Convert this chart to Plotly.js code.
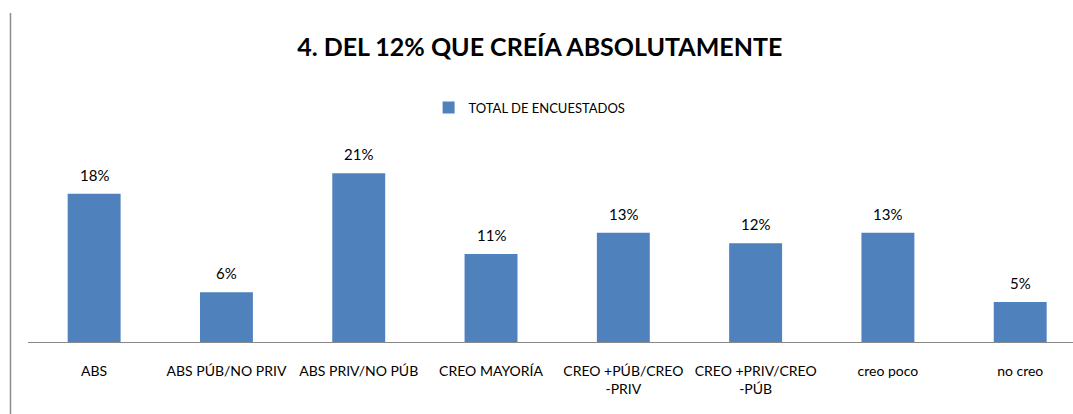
<!DOCTYPE html>
<html>
<head>
<meta charset="utf-8">
<script src="https://cdn.plot.ly/plotly-3.0.1.min.js"></script>
<style>
  html, body { margin: 0; padding: 0; background: #ffffff; }
  #chart { width: 1073px; height: 414px; }
</style>
</head>
<body>
<div id="chart"></div>
<script>
// Categories (x axis tick labels)
const categories = [
  "ABS",
  "ABS PÚB/NO PRIV",
  "ABS PRIV/NO PÚB",
  "CREO MAYORÍA",
  "CREO +PÚB/CREO<br>-PRIV",
  "CREO +PRIV/CREO<br>-PÚB",
  "creo poco",
  "no creo"
];
// Series: TOTAL DE ENCUESTADOS (percent)
const seriesName = "TOTAL DE ENCUESTADOS";
const totalValues = [18.2, 6.1, 20.7, 10.8, 13.4, 12.1, 13.4, 4.9];
// Data labels shown on the bars
const valueLabels = ["18%", "6%", "21%", "11%", "13%", "12%", "13%", "5%"];

const FONT = "Lato, 'Open Sans', sans-serif";
const BLUE = "#4F81BD";

const trace = {
  type: "bar",
  name: seriesName,
  x: categories,
  y: totalValues,
  width: 0.4,
  marker: { color: BLUE, line: { width: 0 } },
  hoverinfo: "skip",
  showlegend: true
};

const annotations = categories.map((c, i) => ({
  x: c,
  y: totalValues[i],
  xref: "x",
  yref: "y",
  text: valueLabels[i],
  showarrow: false,
  yanchor: "bottom",
  xanchor: "center",
  yshift: 8,
  font: { family: FONT, size: 15, color: "#000000" }
}));

const layout = {
  width: 1073,
  height: 414,
  margin: { l: 28, r: 0, t: 100, b: 72, autoexpand: false },
  paper_bgcolor: "#ffffff",
  plot_bgcolor: "#ffffff",
  font: { family: FONT, size: 14, color: "#000000" },
  title: {
    text: "<b>4. DEL 12% QUE CREÍA ABSOLUTAMENTE</b>",
    font: { family: FONT, size: 25, color: "#000000" },
    xref: "container",
    x: 0.503,
    xanchor: "center",
    yref: "container",
    y: 0.8865,
    yanchor: "middle"
  },
  showlegend: true,
  legend: {
    orientation: "h",
    xref: "paper",
    x: 0.480,
    xanchor: "center",
    yref: "paper",
    y: 0.969,
    yanchor: "middle",
    font: { family: FONT, size: 13, color: "#000000" },
    bgcolor: "rgba(0,0,0,0)"
  },
  bargap: 0.6,
  xaxis: {
    type: "category",
    range: [-0.5, 7.399],
    showline: true,
    linecolor: "#888888",
    linewidth: 1,
    ticks: "",
    tickangle: 0,
    showgrid: false,
    zeroline: false,
    automargin: false,
    tickfont: { family: FONT, size: 14, color: "#000000" },
    ticklabelstandoff: 16,
    fixedrange: true
  },
  yaxis: {
    range: [0, 29.69],
    visible: false,
    showgrid: false,
    zeroline: false,
    automargin: false,
    fixedrange: true
  },
  annotations: annotations,
  shapes: [
    {
      type: "line",
      xref: "paper", yref: "paper",
      x0: -0.01675, x1: -0.01675,
      y0: -0.30, y1: 1.3595,
      line: { color: "#8c8c8c", width: 1.5 }
    }
  ]
};

Plotly.newPlot("chart", [trace], layout, { displayModeBar: false, staticPlot: true });
</script>
</body>
</html>
